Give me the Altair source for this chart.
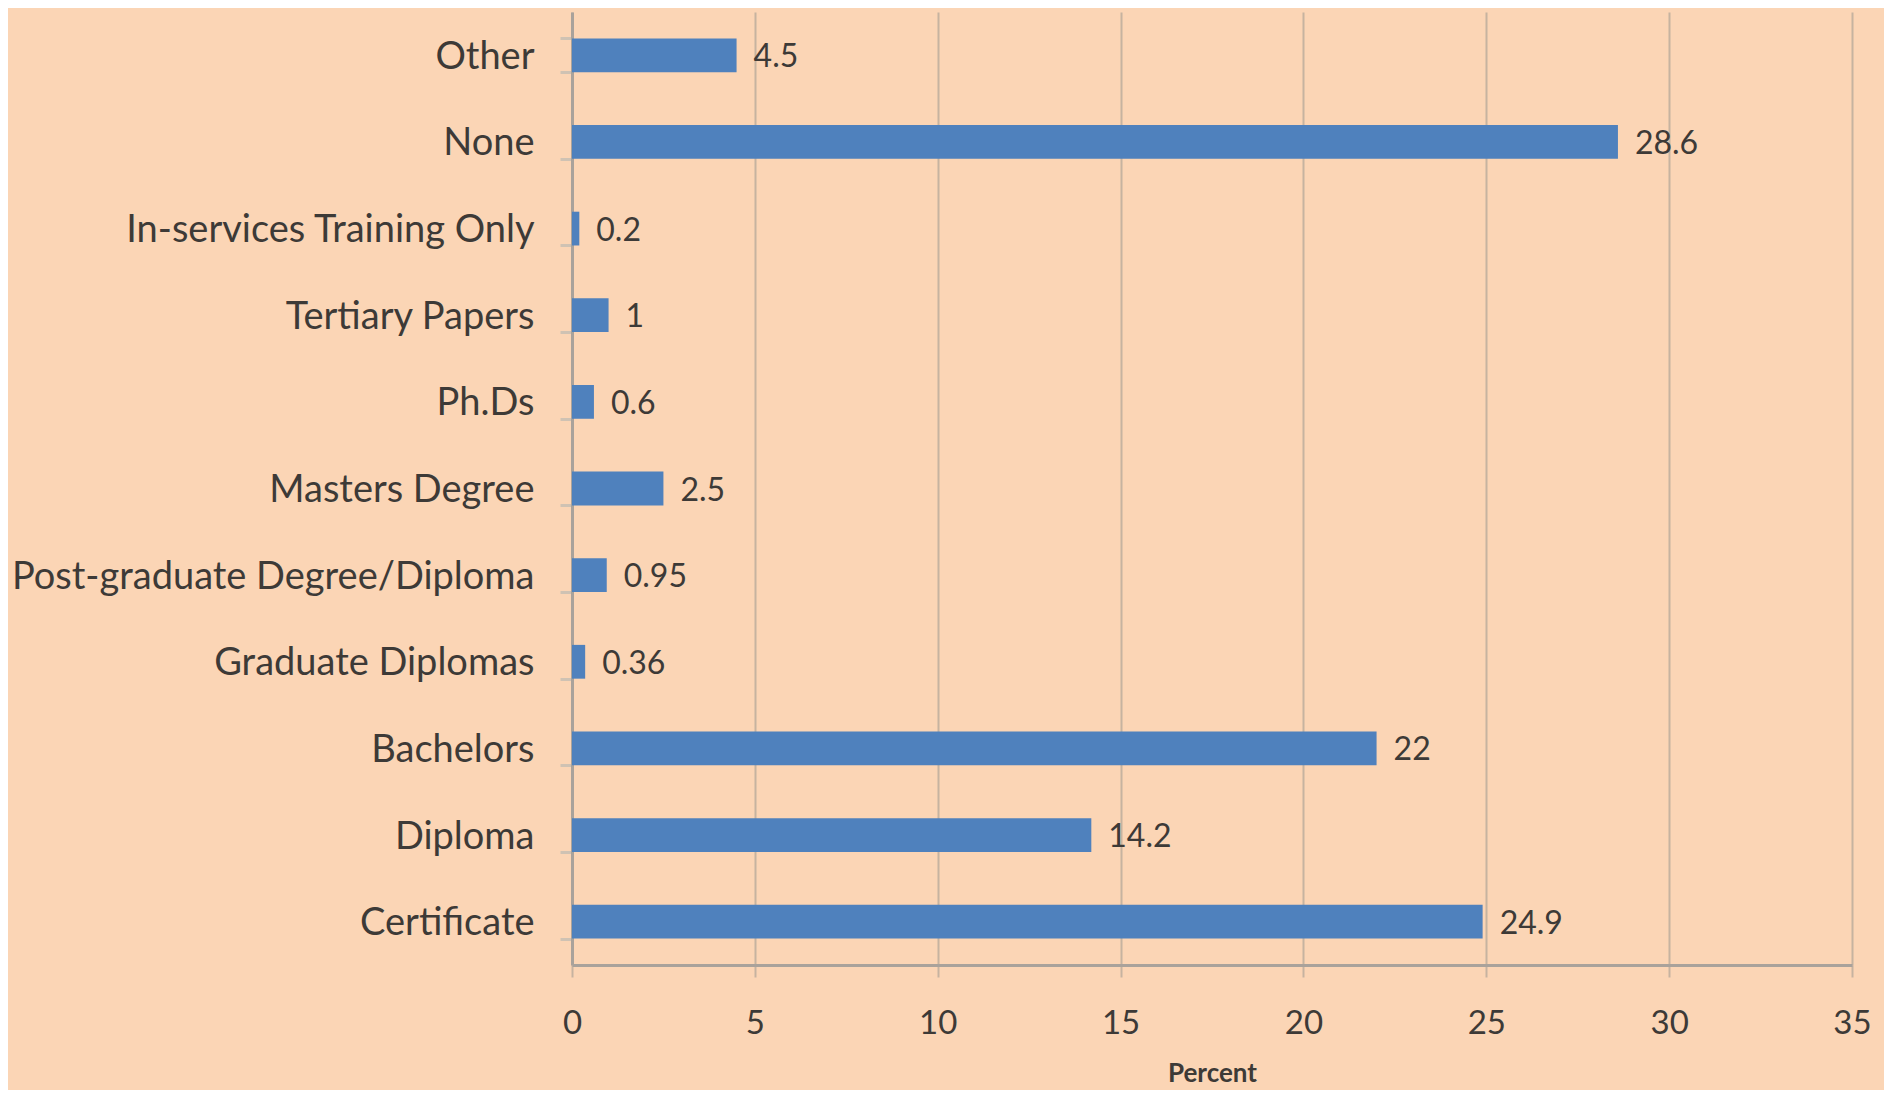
import altair as alt
import pandas as pd

categories = [
    "Other", "None", "In-services Training Only", "Tertiary Papers", "Ph.Ds",
    "Masters Degree", "Post-graduate Degree/Diploma", "Graduate Diplomas",
    "Bachelors", "Diploma", "Certificate",
]
values = [4.5, 28.6, 0.2, 1, 0.6, 2.5, 0.95, 0.36, 22, 14.2, 24.9]
x_ticks = [0, 5, 10, 15, 20, 25, 30, 35]

df = pd.DataFrame({"category": categories, "value": values})

FONT = "Lato"
TXT = "#3d3a37"
GRID = "#c6b3a0"
AXIS = "#a9a29b"
BAR = "#4f81bd"

y_enc = alt.Y(
    "category:N", sort=categories, title=None,
    scale=alt.Scale(paddingInner=0.61, paddingOuter=0.305),
    axis=alt.Axis(
        tickBand="extent", tickSize=12, tickColor="#cfc2b3", tickWidth=3,
        domainColor=AXIS, domainWidth=3,
        labelFont=FONT, labelFontSize=38, labelColor=TXT, labelPadding=26,
        labelOffset=2,
        labelLimit=800, grid=False,
    ),
)
x_enc = alt.X(
    "value:Q", title="Percent",
    scale=alt.Scale(domain=[0, 35], nice=False, zero=True),
    axis=alt.Axis(
        values=x_ticks, grid=True, gridColor=GRID, gridWidth=2,
        tickSize=12, tickColor=GRID, tickWidth=2,
        domainColor=AXIS, domainWidth=3,
        labelFont=FONT, labelFontSize=33, labelColor=TXT, labelPadding=30,
        labelFlush=False, labelOverlap=False,
        titleFont=FONT, titleFontSize=26, titleFontWeight="bold",
        titleColor=TXT, titlePadding=20,
    ),
)

bars = alt.Chart(df).mark_bar(color=BAR).encode(y=y_enc, x=x_enc)
labels = alt.Chart(df).mark_text(
    align="left", baseline="middle", dx=17, dy=2,
    font=FONT, fontSize=32, color=TXT,
).encode(
    y=alt.Y("category:N", sort=categories),
    x="value:Q",
    text=alt.Text("value:Q", format="~g"),
)

chart = (bars + labels).properties(
    width=1280, height=953,
    background="#fbd5b5",
    padding={"left": 564, "top": 4, "right": 32, "bottom": 125},
    autosize=alt.AutoSizeParams(type="none"),
).configure_view(stroke=None)

chart.save("out.html", embed_options={"renderer": "svg", "actions": False})
